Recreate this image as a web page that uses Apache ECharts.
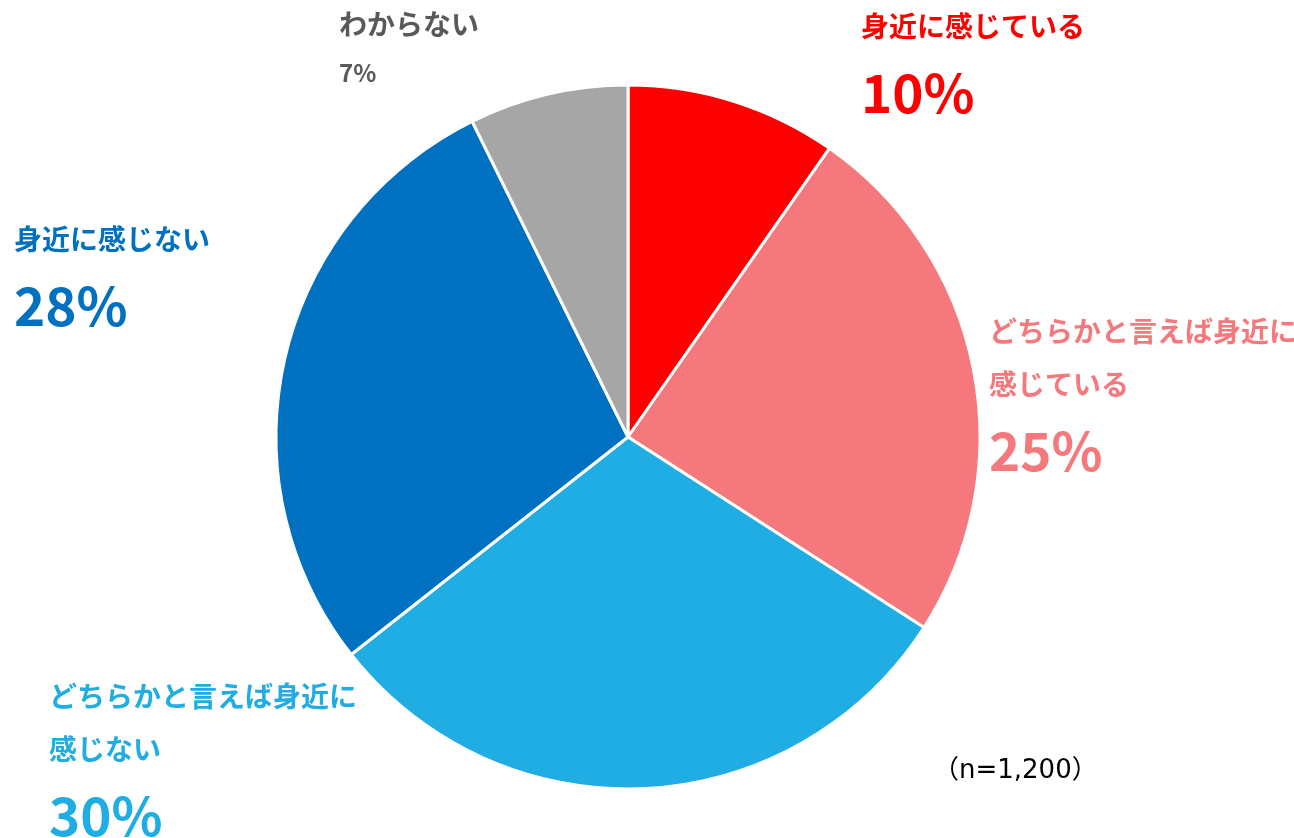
<!DOCTYPE html>
<html>
<head>
<meta charset="utf-8">
<script src="https://cdn.jsdelivr.net/npm/echarts@6/dist/echarts.min.js"></script>
<style>
html,body{margin:0;padding:0;background:#fff;}
#main{width:1294px;height:838px;}
</style>
</head>
<body>
<div id="main"></div>
<script>
var myChart = echarts.init(document.getElementById('main'));

// 回答カテゴリ（表示順：上から時計回り）
var categories = ['身近に感じている', 'どちらかと言えば身近に\n感じている', 'どちらかと言えば身近に\n感じない', '身近に感じない', 'わからない'];
// 扇形の大きさ
var values = [9.7, 24.4, 30.3, 28.3, 7.3];
// ラベル表示用の割合
var pctLabels = ['10%', '25%', '30%', '28%', '7%'];
var colors = ['#FF0000', '#F5797C', '#1FADE3', '#0070C0', '#A6A6A6'];
var textColors = ['#FF0000', '#F5797C', '#1FADE3', '#0070C0', '#595959'];
var sampleNote = '（n=1,200）';

// ラベル位置
var labelPos = [[861, 0], [989, 305], [49, 670], [14, 213], [339, -2]];

var FONT = '"Noto Sans CJK JP", "Noto Sans", sans-serif';

function buildData(){
	var arr = [];
	for (var i = 0; i < values.length; i++) {
		var small = (i == 4);
		arr.push({
			name: categories[i],
			value: values[i],
			itemStyle: {color: colors[i]},
			label: {
				formatter: '{t|' + categories[i].split('\n').join('}\n{t|') + '}\n{' + (small ? 's' : 'p') + '|' + pctLabels[i] + '}',
				rich: {
					t: {fontSize: 28, fontWeight: 'bold', lineHeight: 53, color: textColors[i], fontFamily: FONT},
					p: {fontSize: 53, fontWeight: 'bold', lineHeight: 80, color: textColors[i], fontFamily: FONT},
					s: {fontSize: 24, fontWeight: 'bold', lineHeight: 43, color: textColors[i], fontFamily: FONT}
				}
			}
		});
	}
	return arr;
}

var option = {
	animation: false,
	backgroundColor: '#fff',
	graphic: [{
		type: 'text',
		left: 933,
		top: 758,
		style: {text: sampleNote, fontSize: 26, fill: '#000', fontFamily: '"DejaVu Sans", "Noto Sans CJK JP", sans-serif'}
	}],
	series: [{
		type: 'pie',
		center: [628, 437],
		radius: 352,
		startAngle: 90,
		clockwise: true,
		itemStyle: {borderColor: '#fff', borderWidth: 3},
		label: {show: true, position: 'outside', align: 'left', overflow: 'none', bleedMargin: 0},
		labelLine: {show: false},
		labelLayout: function (params) {
			var p = labelPos[params.dataIndex];
			return {x: p[0], y: p[1], align: 'left', verticalAlign: 'top'};
		},
		data: buildData()
	}]
};
myChart.setOption(option);
</script>
</body>
</html>
